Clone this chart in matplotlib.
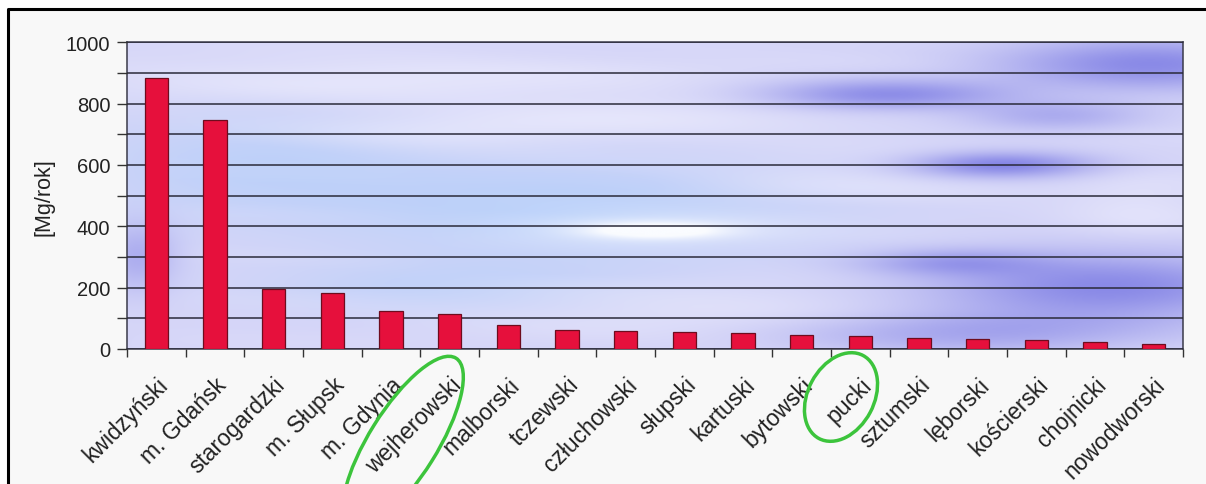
import matplotlib
matplotlib.use("Agg")
import matplotlib.pyplot as plt
import numpy as np
from matplotlib.patches import Ellipse, Rectangle
from matplotlib.lines import Line2D
from matplotlib.transforms import IdentityTransform

# data
powiaty = ["kwidzyński", "m. Gdańsk", "starogardzki", "m. Słupsk", "m. Gdynia",
           "wejherowski", "malborski", "tczewski", "człuchowski", "słupski",
           "kartuski", "bytowski", "pucki", "sztumski", "lęborski",
           "kościerski", "chojnicki", "nowodworski"]
wartosci = [884, 747, 197, 184, 125, 114, 79, 62, 58, 57,
            53, 47, 41, 35, 34, 29, 22, 16]
y_ticks = [0, 200, 400, 600, 800, 1000]

plt.rcParams["font.family"] = ["Liberation Sans", "DejaVu Sans"]

fig = plt.figure(figsize=(12.06, 4.85), dpi=100, facecolor="white")

# off-white panel with a black frame at top and left
fig.patches.append(Rectangle((8 / 1206, 0), 1, 1 - 10 / 485, transform=fig.transFigure,
                             facecolor="#f8f8f8", edgecolor="none", zorder=-5))
fig.add_artist(Line2D([8 / 1206, 8 / 1206, 1], [0, 1 - 10 / 485, 1 - 10 / 485],
                      transform=fig.transFigure, color="black", lw=2.2))

ax = fig.add_axes([127 / 1206, 1 - 350 / 485, (1183 - 127) / 1206, (350 - 43.3) / 485])

# cloudy blue background of the plot area
gx, gy = np.meshgrid(np.linspace(0, 1, 500), np.linspace(0, 1, 200))

def blob(bx, by, sx, sy):
    return np.exp(-((gx - bx) ** 2 / (2 * sx ** 2) + (gy - by) ** 2 / (2 * sy ** 2)))

w_sky = (0.8 * blob(0.42, 0.45, 0.16, 0.12) + 0.6 * blob(0.12, 0.6, 0.12, 0.12)
         + 0.5 * blob(0.3, 0.2, 0.12, 0.06))
w_white = 1.0 * blob(0.50, 0.385, 0.045, 0.018) + 0.5 * blob(0.50, 0.39, 0.1, 0.04)
w_light = (0.6 * blob(0.25, 0.88, 0.2, 0.06) + 0.5 * blob(0.5, 0.75, 0.15, 0.05)
           + 0.5 * blob(0.6, 0.12, 0.2, 0.06) + 0.5 * blob(0.96, 0.45, 0.05, 0.08)
           + 0.4 * blob(0.7, 0.55, 0.1, 0.05) + 0.4 * blob(0.3, 0.7, 0.1, 0.04))
w_dark = (0.8 * blob(0.72, 0.83, 0.08, 0.035) + 0.85 * blob(0.97, 0.93, 0.1, 0.06)
          + 0.9 * blob(0.83, 0.6, 0.06, 0.03) + 0.85 * blob(0.93, 0.2, 0.12, 0.08)
          + 0.5 * blob(0.8, 0.05, 0.12, 0.05) + 0.45 * blob(0.01, 0.3, 0.025, 0.08)
          + 0.45 * blob(0.88, 0.76, 0.06, 0.035) + 0.5 * blob(0.78, 0.28, 0.06, 0.03))
streak = 0.08 * np.sin(gy * 45 + gx * 5) * np.sin(gx * 11)

base = np.array([214, 214, 248]) / 255
sky = np.array([178, 206, 250]) / 255
white = np.array([250, 252, 255]) / 255
light = np.array([238, 238, 253]) / 255
dark = np.array([125, 125, 228]) / 255

img = np.ones(gx.shape + (3,)) * base
for w, c in [(w_sky, sky), (w_light + streak, light), (w_dark, dark), (w_white, white)]:
    w = np.clip(w, 0, 1)[..., None]
    img = img * (1 - w) + c * w
ax.imshow(img, extent=[0, 1, 0, 1], transform=ax.transAxes, origin="lower",
          aspect="auto", zorder=0, interpolation="bicubic")

x = np.arange(len(powiaty))
ax.bar(x, wartosci, width=0.4, color="#e6103c", edgecolor="#6e0c1e", linewidth=0.9, zorder=3)

ax.set_xlim(-0.5, len(powiaty) - 0.5)
ax.set_ylim(0, 1000)
ax.set_yticks(y_ticks)
ax.set_yticks(np.arange(0, 1001, 100), minor=True)
ax.grid(True, axis="y", which="both", color="#2a2a3a", lw=1.1, zorder=1)
ax.set_axisbelow(False)

ax.set_xticks(x)
ax.set_xticklabels(powiaty, rotation=45, ha="right", rotation_mode="anchor", fontsize=16.5,
                   color="#222222")
ax.set_xticks(np.arange(-0.5, len(powiaty), 1), minor=True)
ax.tick_params(axis="x", which="major", length=0, pad=17)
ax.tick_params(axis="x", which="minor", length=6, width=1, color="#333333")
ax.tick_params(axis="y", which="both", length=7, width=1, color="#333333", labelsize=14.5,
               labelcolor="#222222", pad=5)

for s in ax.spines.values():
    s.set_color("#3a3a4a")
    s.set_linewidth(1.1)

ax.set_ylabel("[Mg/rok]", fontsize=15.5, color="#222222", labelpad=8)

# green markings around two labels
for (cx, cy, w, h, ang) in [(403, 444, 200, 68, 58), (841, 398, 94, 66, 62)]:
    fig.add_artist(Ellipse((cx, 485 - cy), w, h, angle=ang, transform=IdentityTransform(),
                           fill=False, edgecolor="#3cc43c", lw=2.5, clip_on=False))

fig.savefig("out.png", dpi=100, facecolor=fig.get_facecolor())
